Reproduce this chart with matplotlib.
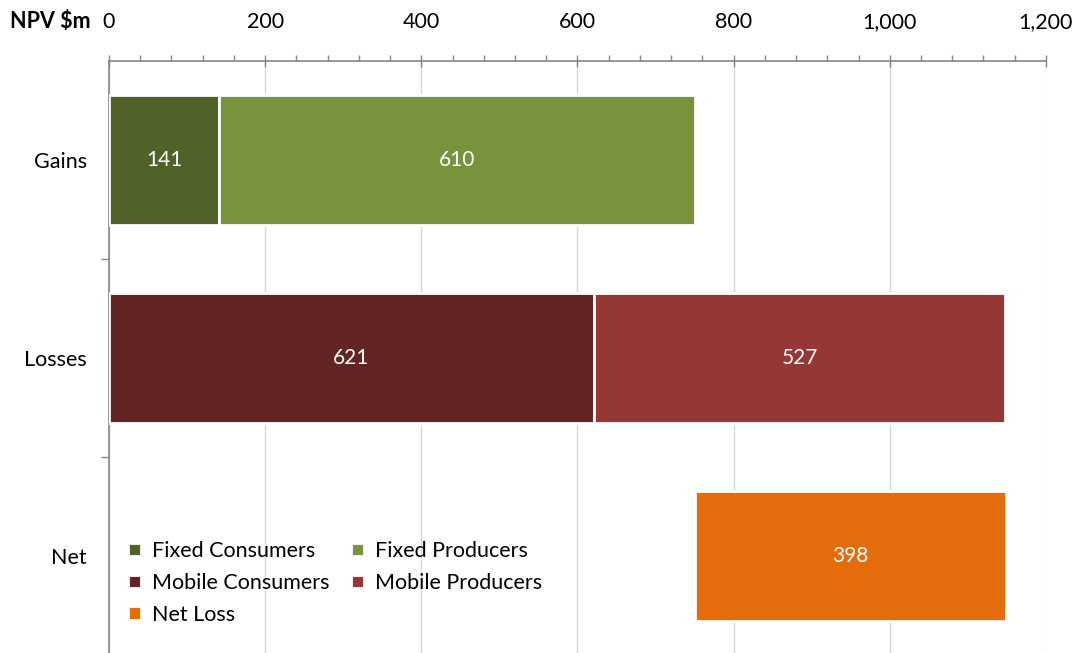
import matplotlib.pyplot as plt
from matplotlib.ticker import MultipleLocator, FuncFormatter, FixedLocator
import numpy as np

plt.rcParams['font.family'] = ['Lato', 'DejaVu Sans']

# NPV impacts, $m
categories = ['Gains', 'Losses', 'Net']
fixed_consumers = 141
fixed_producers = 610
mobile_consumers = 621
mobile_producers = 527
net_loss = 398

colors = {
    'Fixed Consumers': '#4F6228',
    'Fixed Producers': '#77933C',
    'Mobile Consumers': '#632523',
    'Mobile Producers': '#953735',
    'Net Loss': '#E46C0A',
}

fig = plt.figure(figsize=(10.83, 6.53), dpi=100)
ax = fig.add_axes([0.1006, -0.003, 0.8652, 0.9096])

y = np.arange(len(categories))
h = 0.66
bar_kw = dict(height=h, edgecolor='white', linewidth=2, zorder=3)

gains_total = fixed_consumers + fixed_producers

bars = {}
bars['Fixed Consumers'] = ax.barh(y[0], fixed_consumers, color=colors['Fixed Consumers'],
                                  label='Fixed Consumers', **bar_kw)
bars['Fixed Producers'] = ax.barh(y[0], fixed_producers, left=fixed_consumers,
                                  color=colors['Fixed Producers'], label='Fixed Producers', **bar_kw)
bars['Mobile Consumers'] = ax.barh(y[1], mobile_consumers, color=colors['Mobile Consumers'],
                                   label='Mobile Consumers', **bar_kw)
bars['Mobile Producers'] = ax.barh(y[1], mobile_producers, left=mobile_consumers,
                                   color=colors['Mobile Producers'], label='Mobile Producers', **bar_kw)
# net loss floats from the end of the gains bar
bars['Net Loss'] = ax.barh(y[2], net_loss, left=gains_total, color=colors['Net Loss'],
                           label='Net Loss', **bar_kw)

for b in bars.values():
    ax.bar_label(b, labels=[f'{int(r.get_width())}' for r in b], label_type='center',
                 color='white', fontsize=15)

ax.set_xlim(0, 1200)
ax.set_ylim(2.5, -0.5)
ax.xaxis.tick_top()
ax.xaxis.set_major_locator(MultipleLocator(200))
ax.xaxis.set_minor_locator(MultipleLocator(40))
ax.xaxis.set_major_formatter(FuncFormatter(lambda v, p: f'{int(v):,}'))
ax.tick_params(axis='x', which='major', direction='inout', length=8, width=1,
               color='#868686', labelsize=15.5, pad=17)
ax.tick_params(axis='x', which='minor', direction='out', length=4, width=1, color='#868686')

ax.set_yticks(y)
ax.set_yticklabels(categories)
ax.yaxis.set_minor_locator(FixedLocator([0.5, 1.5]))
ax.tick_params(axis='y', which='major', length=0, labelsize=15.5, pad=16)
ax.tick_params(axis='y', which='minor', direction='out', length=6, width=1, color='#868686')

ax.grid(axis='x', which='major', color='#D9D9D9', linewidth=1, zorder=0)
ax.set_axisbelow(True)
for s in ['right', 'bottom']:
    ax.spines[s].set_visible(False)
for s in ['left', 'top']:
    ax.spines[s].set_color('#868686')
    ax.spines[s].set_linewidth(1.2)

fig.text(0.009, 0.967, 'NPV $m', fontsize=15.5, fontweight='bold', va='center', ha='left')

# legend reads row by row, matplotlib fills column by column
order = ['Fixed Consumers', 'Mobile Consumers', 'Net Loss', 'Fixed Producers', 'Mobile Producers']
ax.legend([bars[k] for k in order], order, loc='lower left', bbox_to_anchor=(0.0, 0.018),
          ncol=2, frameon=False, fontsize=15.5, handlelength=0.6, handleheight=0.6,
          handletextpad=0.5, columnspacing=1.0, labelspacing=0.55)

fig.savefig('out.png', dpi=100)
